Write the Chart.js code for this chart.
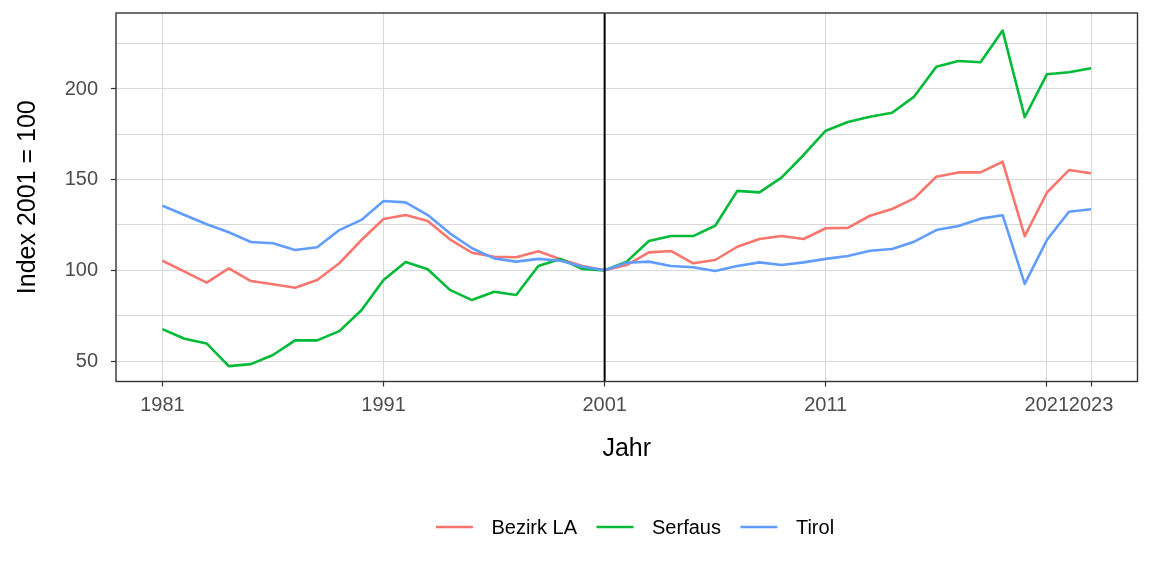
<!DOCTYPE html>
<html>
<head>
<meta charset="utf-8">
<script src="https://cdn.jsdelivr.net/npm/chart.js@4.4.0/dist/chart.umd.min.js"></script>
<style>
  html, body { margin: 0; padding: 0; background: #fff; }
  #wrap { width: 1152px; height: 576px; }
</style>
</head>
<body>
<div id="wrap"><canvas id="chart" width="1152" height="576"></canvas></div>
<script>
const years = [1981, 1982, 1983, 1984, 1985, 1986, 1987, 1988, 1989, 1990,
  1991, 1992, 1993, 1994, 1995, 1996, 1997, 1998, 1999, 2000,
  2001, 2002, 2003, 2004, 2005, 2006, 2007, 2008, 2009, 2010,
  2011, 2012, 2013, 2014, 2015, 2016, 2017, 2018, 2019, 2020,
  2021, 2022, 2023];
const bezirkLA = [105.3, 99.3, 93.2, 101.1, 94.1, 92.3, 90.4, 94.7, 103.9, 116.7,
  128.3, 130.5, 127.2, 117.1, 109.7, 107.5, 107.2, 110.5, 106.1, 102.4,
  100, 102.9, 109.9, 110.7, 103.9, 105.7, 113.0, 117.3, 118.9, 117.3,
  123.2, 123.4, 130.1, 133.8, 139.7, 151.6, 154.0, 154.0, 159.9, 118.9,
  142.8, 155.3, 153.5];
const serfaus = [67.6, 62.3, 59.7, 47.2, 48.3, 53.3, 61.4, 61.4, 66.5, 78.0,
  94.7, 104.6, 100.6, 89.2, 83.6, 88.2, 86.4, 102.4, 106.3, 100.7,
  100, 104.8, 116.2, 118.9, 118.9, 124.6, 143.8, 143.0, 151.1, 163.6,
  177.0, 181.8, 184.7, 186.9, 195.8, 212.3, 215.4, 214.7, 232.2, 184.4,
  208.1, 209.2, 211.4];
const tirol = [135.6, 130.5, 125.4, 121.0, 115.6, 114.9, 111.2, 112.7, 122.2, 127.8,
  138.2, 137.5, 130.5, 120.4, 112.2, 106.6, 104.8, 106.3, 105.3, 102.0,
  100, 104.2, 104.8, 102.4, 101.7, 99.6, 102.4, 104.4, 102.9, 104.4,
  106.3, 107.9, 110.8, 111.8, 115.8, 122.2, 124.5, 128.5, 130.4, 92.5,
  116.7, 132.3, 133.7];

const xTicks = [1981, 1991, 2001, 2011, 2021, 2023];
const yTicks = [50, 75, 100, 125, 150, 175, 200, 225];
const yLabels = [50, 100, 150, 200];
const seriesNames = ['Bezirk LA', 'Serfaus', 'Tirol'];
const seriesColors = ['#F8766D', '#00BA38', '#619CFF'];
const refYear = 2001;

const FONT = '"Liberation Sans", Arial, sans-serif';

function toPoints(vals) {
  return years.map((y, i) => ({ x: y, y: vals[i] }));
}

// rahmen + vertikale linie 2001
const framePlugin = {
  id: 'frame',
  afterDatasetsDraw(chart) {
    const { ctx, chartArea: a, scales } = chart;
    const xr = scales.x.getPixelForValue(refYear);
    ctx.save();
    ctx.strokeStyle = '#000';
    ctx.lineWidth = 2;
    ctx.beginPath();
    ctx.moveTo(xr, a.top);
    ctx.lineTo(xr, a.bottom);
    ctx.stroke();
    ctx.strokeStyle = '#333333';
    ctx.lineWidth = 1.4;
    ctx.strokeRect(a.left, a.top, a.right - a.left, a.bottom - a.top);
    ctx.restore();
  }
};

// legende unten
const legendPlugin = {
  id: 'ggLegend',
  afterDraw(chart) {
    const { ctx } = chart;
    ctx.save();
    ctx.font = '20px ' + FONT;
    const lineW = 37, gapText = 18.5, gapItem = 19.5;
    let total = 0;
    seriesNames.forEach((n, i) => {
      total += lineW + gapText + ctx.measureText(n).width;
      if (i < seriesNames.length - 1) total += gapItem;
    });
    let x = 635 - total / 2;
    const y = 527;
    seriesNames.forEach((n, i) => {
      ctx.strokeStyle = seriesColors[i];
      ctx.lineWidth = 2.5;
      ctx.beginPath();
      ctx.moveTo(x, y);
      ctx.lineTo(x + lineW, y);
      ctx.stroke();
      x += lineW + gapText;
      ctx.fillStyle = '#000';
      ctx.textBaseline = 'middle';
      ctx.fillText(n, x, y + 1);
      x += ctx.measureText(n).width + gapItem;
    });
    ctx.restore();
  }
};

new Chart(document.getElementById('chart'), {
  type: 'line',
  data: {
    datasets: seriesNames.map((name, i) => ({
      label: name,
      data: toPoints([bezirkLA, serfaus, tirol][i]),
      borderColor: seriesColors[i],
      backgroundColor: seriesColors[i],
      borderWidth: 2.6,
      pointRadius: 0,
      tension: 0,
      borderJoinStyle: 'round',
      borderCapStyle: 'butt',
      order: 2 - i
    }))
  },
  options: {
    responsive: false,
    animation: false,
    layout: { padding: { left: 0, right: 14.5, top: 13, bottom: 0 } },
    plugins: {
      legend: { display: false },
      tooltip: { enabled: false }
    },
    scales: {
      x: {
        type: 'linear',
        min: 1978.9,
        max: 2025.1,
        afterBuildTicks: (s) => { s.ticks = xTicks.map(v => ({ value: v })); },
        afterFit: (s) => { s.height = 576 - 381.5; s.paddingLeft = 0; s.paddingRight = 0; },
        ticks: {
          color: '#4D4D4D',
          font: { family: FONT, size: 20 },
          padding: 7,
          maxRotation: 0,
          autoSkip: false,
          callback: (v) => String(v)
        },
        grid: {
          color: '#D9D9D9',
          lineWidth: 1,
          drawTicks: true,
          tickLength: 5,
          tickColor: '#333333',
          tickWidth: 1.2
        },
        border: { display: false },
        title: {
          display: true,
          text: 'Jahr',
          color: '#000',
          font: { family: FONT, size: 25 },
          padding: { top: 0, bottom: 112 }
        }
      },
      y: {
        min: 38.7,
        max: 241.9,
        afterBuildTicks: (s) => { s.ticks = yTicks.map(v => ({ value: v })); },
        afterFit: (s) => { s.width = 116; s.paddingTop = 0; s.paddingBottom = 0; },
        ticks: {
          color: '#4D4D4D',
          font: { family: FONT, size: 20 },
          padding: 13,
          callback: (v) => yLabels.includes(v) ? String(v) : ''
        },
        grid: {
          color: '#D9D9D9',
          lineWidth: 1,
          drawTicks: true,
          tickLength: 5,
          tickColor: (c) => (c.tick && yLabels.includes(c.tick.value)) ? '#333333' : 'rgba(0,0,0,0)',
          tickWidth: 1.2
        },
        border: { display: false },
        title: {
          display: true,
          text: 'Index 2001 = 100',
          color: '#000',
          font: { family: FONT, size: 25 },
          padding: { top: 13, bottom: 0 }
        }
      }
    }
  },
  plugins: [framePlugin, legendPlugin]
});
</script>
</body>
</html>
